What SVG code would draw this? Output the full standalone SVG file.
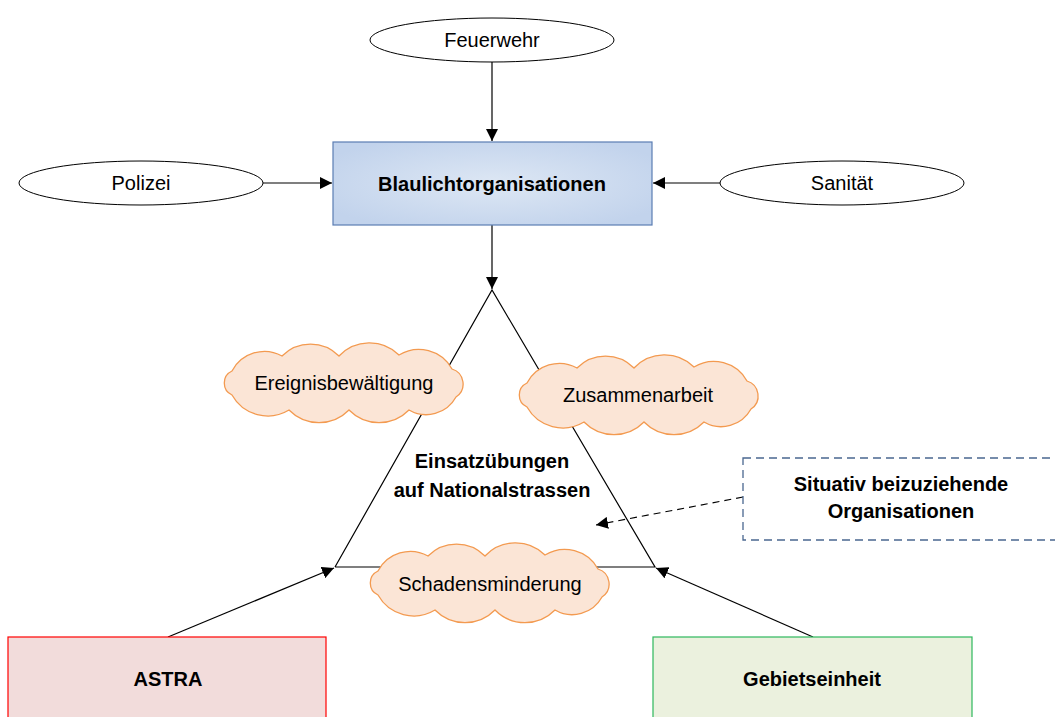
<svg xmlns="http://www.w3.org/2000/svg" width="1055" height="717" viewBox="0 0 1055 717">
<style>
text{font-family:"Liberation Sans",Arial,sans-serif;font-size:20px;fill:#000;text-anchor:middle}
.b{font-weight:bold}
.ell{fill:#fff;stroke:#000;stroke-width:1}
.cloud{fill:#fbe5d6;stroke:#f39a50;stroke-width:1.3}
.ln{stroke:#000;stroke-width:1.2;fill:none}
</style>
<defs>
<marker id="ah" viewBox="0 0 10 10" refX="10" refY="5" markerWidth="12" markerHeight="12" markerUnits="userSpaceOnUse" orient="auto">
<path d="M0,0 L10,5 L0,10 z" fill="#000"/>
</marker>
<radialGradient id="blue" cx="50%" cy="50%" r="60%">
<stop offset="0" stop-color="#dde7f4"/>
<stop offset="1" stop-color="#c2d3ec"/>
</radialGradient>
<path id="cl" d="M-112,-12 A36.5,36.5 0 0 1 -62,-27 A40,40 0 0 1 -5,-27 A42,42 0 0 1 55,-28 A38,38 0 0 1 108,-14 A15.6,15.6 0 0 1 112,14 A34,34 0 0 1 65,27 A42,42 0 0 1 5,27 A42,42 0 0 1 -55,27 A41,41 0 0 1 -112,12 A13.2,13.2 0 0 1 -112,-12 Z"/>
</defs>

<g id="connectors">
<line class="ln" x1="492" y1="62" x2="492" y2="141" marker-end="url(#ah)"/>
<line class="ln" x1="263" y1="183" x2="332" y2="183" marker-end="url(#ah)"/>
<line class="ln" x1="721" y1="183" x2="653" y2="183" marker-end="url(#ah)"/>
<line class="ln" x1="492" y1="225" x2="492" y2="289" marker-end="url(#ah)"/>
<polyline class="ln" points="335,567 492,290 655,567 335,567"/>
<line class="ln" x1="168" y1="637" x2="334" y2="568" marker-end="url(#ah)"/>
<line class="ln" x1="813" y1="637" x2="656" y2="568" marker-end="url(#ah)"/>
<line class="ln" x1="743" y1="497" x2="596" y2="525" stroke-dasharray="7,5" marker-end="url(#ah)"/>
</g>

<g id="feuerwehr">
<ellipse class="ell" cx="492" cy="40" rx="122" ry="22"/>
<text x="492" y="47">Feuerwehr</text>
</g>
<g id="polizei">
<ellipse class="ell" cx="141" cy="183" rx="122" ry="22"/>
<text x="141" y="190">Polizei</text>
</g>
<g id="sanitaet">
<ellipse class="ell" cx="842" cy="183" rx="122" ry="22"/>
<text x="842" y="190">Sanität</text>
</g>
<g id="blaulicht">
<rect x="333" y="142" width="319" height="83" fill="url(#blue)" stroke="#5a7db3" stroke-width="1.2"/>
<text class="b" x="492" y="191">Blaulichtorganisationen</text>
</g>
<g id="ereignis">
<use href="#cl" class="cloud" transform="translate(344,383)"/>
<text x="344" y="390">Ereignisbewältigung</text>
</g>
<g id="zusammenarbeit">
<use href="#cl" class="cloud" transform="translate(639,395)"/>
<text x="638" y="402">Zusammenarbeit</text>
</g>
<g id="schaden">
<use href="#cl" class="cloud" transform="translate(490,583)"/>
<text x="490" y="591">Schadensminderung</text>
</g>
<g id="einsatz">
<text class="b" x="492" y="468">Einsatzübungen</text>
<text class="b" x="492" y="497">auf Nationalstrassen</text>
</g>
<g id="situativ">
<rect x="743" y="458" width="318" height="82" fill="#fff" stroke="#4a6790" stroke-width="1.3" stroke-dasharray="8,5"/>
<text class="b" x="901" y="491">Situativ beizuziehende</text>
<text class="b" x="901" y="518">Organisationen</text>
</g>
<g id="astra">
<rect x="8" y="637" width="318" height="90" fill="#f2dcdb" stroke="#ff0000" stroke-width="1.2"/>
<text class="b" x="168" y="686">ASTRA</text>
</g>
<g id="gebiet">
<rect x="653" y="637" width="319" height="90" fill="#ebf1de" stroke="#2eb85c" stroke-width="1.2"/>
<text class="b" x="812" y="686">Gebietseinheit</text>
</g>
</svg>
